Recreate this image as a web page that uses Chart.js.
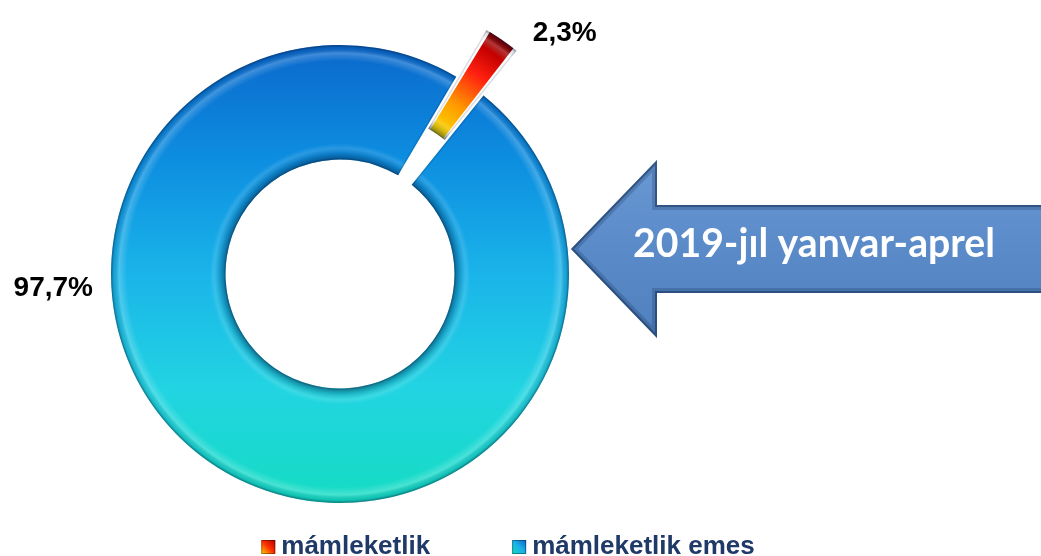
<!DOCTYPE html>
<html>
<head>
<meta charset="utf-8">
<script src="https://cdn.jsdelivr.net/npm/chart.js@4.4.1/dist/chart.umd.min.js"></script>
<style>
  html, body { margin: 0; padding: 0; background: #fff; }
  #wrap { width: 1041px; height: 556px; }
</style>
</head>
<body>
<div id="wrap"><canvas id="donut" width="1041" height="556"></canvas></div>
<script>
// === data ===
const categories = ['mámleketlik', 'mámleketlik emes'];
const shares = [2.3, 97.7];
const periodLabel = '2019-jıl yanvar-aprel';

const fmtPct = v => v.toFixed(1).replace('.', ',') + '%';

// fill gradients (built once the chart area is known)
function sliceFill(ctx) {
    const chart = ctx.chart;
    const area = chart.chartArea;
    if (!area) return '#1a9be0';
    const cx = (area.left + area.right) / 2;
    const cy = (area.top + area.bottom) / 2;
    const R = 229;
    const c = chart.ctx;
    if (ctx.dataIndex === 0) {
        // red -> yellow, running from outer tip to inner end
        const g = c.createRadialGradient(cx, cy, 140, cx, cy, 256);
        g.addColorStop(0, '#f7dc00');
        g.addColorStop(0.3, '#ff9a00');
        g.addColorStop(0.62, '#ff2010');
        g.addColorStop(0.85, '#c40000');
        g.addColorStop(1, '#6e0000');
        return g;
    }
    const g = c.createLinearGradient(0, cy - R, 0, cy + R);
    g.addColorStop(0, '#0b68cc');
    g.addColorStop(0.25, '#0d8ee0');
    g.addColorStop(0.5, '#1ab4e9');
    g.addColorStop(0.75, '#22d4e2');
    g.addColorStop(1, '#14dcc2');
    return g;
}

// soft bevel on the ring pieces
const bevel = {
    id: 'bevel',
    afterDatasetsDraw(chart) {
        const c = chart.ctx;
        chart.getDatasetMeta(0).data.forEach(arc => {
            const p = arc.getProps(['x', 'y', 'startAngle', 'endAngle', 'innerRadius', 'outerRadius', 'circumference']);
            const off = (arc.options.offset || 0) / 4;
            const half = (p.startAngle + p.endAngle) / 2;
            const rOff = off * (1 - Math.sin(Math.min(Math.PI, p.circumference)));
            const ro = p.outerRadius + rOff, ri = p.innerRadius + rOff;
            c.save();
            c.translate(Math.cos(half) * off, Math.sin(half) * off);
            c.beginPath();
            c.arc(p.x, p.y, ro, p.startAngle, p.endAngle);
            c.arc(p.x, p.y, ri, p.endAngle, p.startAngle, true);
            c.closePath();
            c.clip();
            const g = c.createRadialGradient(p.x, p.y, ri, p.x, p.y, ro);
            g.addColorStop(0, 'rgba(0,25,60,0.5)');
            g.addColorStop(0.05, 'rgba(0,25,60,0.16)');
            g.addColorStop(0.1, 'rgba(255,255,255,0.12)');
            g.addColorStop(0.14, 'rgba(255,255,255,0)');
            g.addColorStop(0.86, 'rgba(255,255,255,0)');
            g.addColorStop(0.93, 'rgba(255,255,255,0.22)');
            g.addColorStop(0.97, 'rgba(0,25,60,0.1)');
            g.addColorStop(1, 'rgba(0,25,60,0.35)');
            c.fillStyle = g;
            c.fillRect(p.x - ro - 5, p.y - ro - 5, ro * 2 + 10, ro * 2 + 10);
            c.lineWidth = 3;
            c.strokeStyle = 'rgba(0,25,60,0.15)';
            c.stroke();
            c.restore();
        });
    }
};

// percent labels next to the slices
const pctLabels = {
    id: 'pctLabels',
    afterDatasetsDraw(chart) {
        const c = chart.ctx;
        c.save();
        c.font = 'bold 28px "Liberation Sans", Arial, sans-serif';
        c.fillStyle = '#000';
        c.textBaseline = 'alphabetic';
        chart.getDatasetMeta(0).data.forEach((arc, i) => {
            const p = arc.getProps(['x', 'y', 'startAngle', 'endAngle', 'outerRadius', 'circumference']);
            const txt = fmtPct(shares[i]);
            if (p.circumference < Math.PI / 4) {
                const off = (arc.options.offset || 0) / 4;
                const half = (p.startAngle + p.endAngle) / 2;
                const rOff = off * (1 - Math.sin(p.circumference));
                const tx = p.x + Math.cos(half) * (off + p.outerRadius + rOff);
                const ty = p.y + Math.sin(half) * (off + p.outerRadius + rOff);
                c.textAlign = 'left';
                c.fillText(txt, tx + 31, ty + 1);
            } else {
                c.textAlign = 'right';
                c.fillText(txt, p.x - p.outerRadius - 18, p.y + 22);
            }
        });
        c.restore();
    }
};

// big arrow with the period name
const periodArrow = {
    id: 'periodArrow',
    afterDraw(chart) {
        const c = chart.ctx;
        const tipX = 571, midY = 249, headX = 657;
        const headH = 89, bodyH = 44, endX = chart.width + 10;
        c.save();
        c.beginPath();
        c.moveTo(tipX, midY);
        c.lineTo(headX, midY - headH);
        c.lineTo(headX, midY - bodyH);
        c.lineTo(endX, midY - bodyH);
        c.lineTo(endX, midY + bodyH);
        c.lineTo(headX, midY + bodyH);
        c.lineTo(headX, midY + headH);
        c.closePath();
        const g = c.createLinearGradient(0, midY - headH, 0, midY + headH);
        g.addColorStop(0, '#6a99d4');
        g.addColorStop(0.5, '#5a8ac8');
        g.addColorStop(1, '#5080bd');
        c.fillStyle = g;
        c.fill();
        c.clip();
        c.lineJoin = 'miter';
        c.lineWidth = 10;
        c.strokeStyle = 'rgba(25,55,95,0.25)';
        c.stroke();
        c.lineWidth = 4;
        c.strokeStyle = 'rgba(20,45,85,0.5)';
        c.stroke();
        c.restore();

        c.save();
        c.font = 'bold 40px Lato, "Open Sans", sans-serif';
        c.fillStyle = '#fff';
        c.textAlign = 'center';
        c.textBaseline = 'alphabetic';
        const w = c.measureText(periodLabel).width;
        const sx = Math.min(1, 362 / w);
        c.translate(814, 257);
        c.scale(sx, 1);
        c.fillText(periodLabel, 0, 0);
        c.restore();
    }
};

// legend at the bottom
const bottomLegend = {
    id: 'bottomLegend',
    afterDraw(chart) {
        const c = chart.ctx;
        const box = 14, gapBox = 6, gapItem = 82, base = 554, centre = 508;
        c.save();
        c.font = 'bold 26px "Liberation Sans", Arial, sans-serif';
        c.textBaseline = 'alphabetic';
        const widths = categories.map(t => c.measureText(t).width);
        const total = widths.reduce((s, w) => s + box + gapBox + w, 0) + gapItem * (categories.length - 1);
        let x = centre - total / 2;
        const boxCols = [['#b00000', '#ff3000', '#ffd200'], ['#0a63c9', '#19b2e8', '#13dcc0']];
        categories.forEach((t, i) => {
            const g = c.createLinearGradient(x + box, base - box, x, base);
            g.addColorStop(0, boxCols[i][0]);
            g.addColorStop(0.5, boxCols[i][1]);
            g.addColorStop(1, boxCols[i][2]);
            c.fillStyle = g;
            c.fillRect(x, base - box, box, box);
            c.strokeStyle = 'rgba(0,0,0,0.35)';
            c.lineWidth = 1;
            c.strokeRect(x + 0.5, base - box + 0.5, box - 1, box - 1);
            x += box + gapBox;
            c.fillStyle = '#1f3a68';
            c.textAlign = 'left';
            c.fillText(t, x, base);
            x += widths[i] + gapItem;
        });
        c.restore();
    }
};

new Chart(document.getElementById('donut'), {
    type: 'doughnut',
    data: {
        labels: categories,
        datasets: [{
            data: shares,
            backgroundColor: sliceFill,
            borderWidth: 0,
            offset: [120, 0],
            hoverOffset: 0
        }]
    },
    options: {
        responsive: false,
        animation: false,
        devicePixelRatio: 1,
        rotation: 30.5,
        cutout: '50%',
        radius: 229,
        layout: { padding: { left: 0, right: 361, top: 0, bottom: 8 } },
        plugins: {
            legend: { display: false },
            tooltip: { enabled: false }
        }
    },
    plugins: [bevel, pctLabels, periodArrow, bottomLegend]
});
</script>
</body>
</html>
